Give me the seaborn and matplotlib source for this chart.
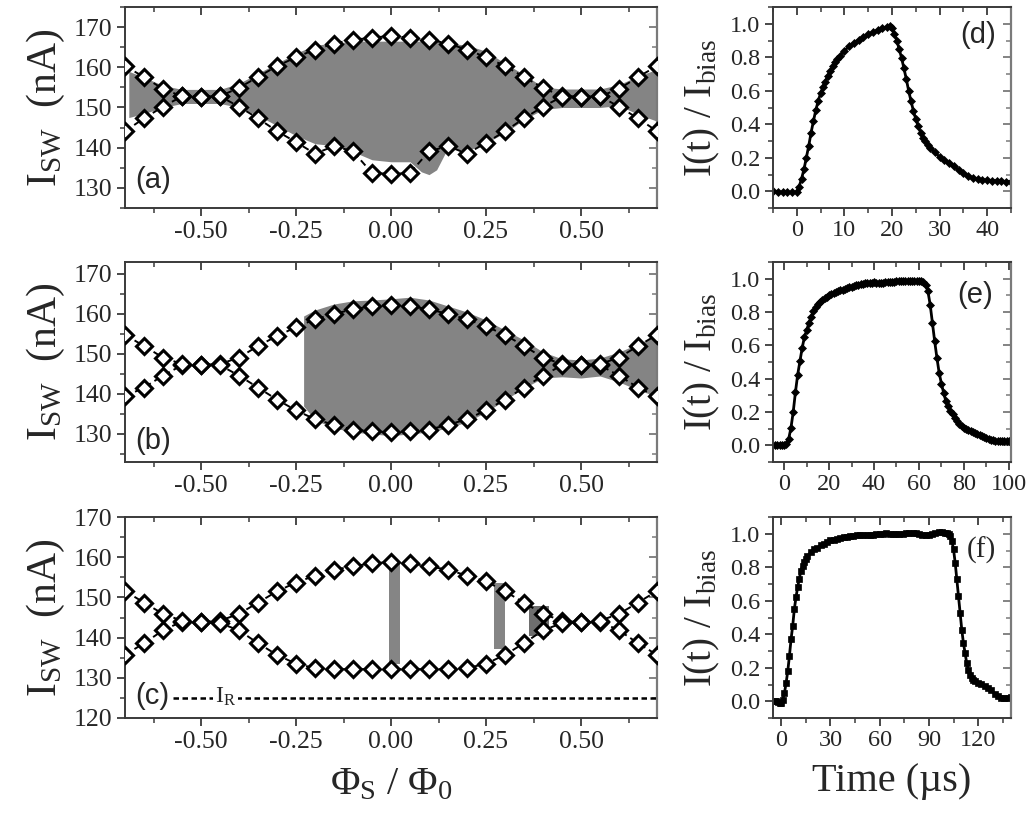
import numpy as np
import pandas as pd
import matplotlib
matplotlib.use("Agg")
import matplotlib.pyplot as plt
import seaborn as sns
from matplotlib.ticker import MultipleLocator, NullFormatter, FormatStrFormatter

# ---------------- data ----------------
phi = [-0.70, -0.65, -0.60, -0.55, -0.50, -0.45, -0.40, -0.35, -0.30, -0.25,
       -0.20, -0.15, -0.10, -0.05, 0.00, 0.05, 0.10, 0.15, 0.20, 0.25,
       0.30, 0.35, 0.40, 0.45, 0.50, 0.55, 0.60, 0.65, 0.70]

# panel (a)
a_curveA = [144.1, 147.3, 150.2, 152.8, 152.7, 152.8, 154.9, 157.6, 160.3, 162.5,
            164.4, 165.9, 166.9, 167.3, 167.9, 167.3, 166.9, 165.9, 164.4, 162.5,
            160.3, 157.6, 154.9, 152.8, 152.7, 152.8, 150.2, 147.3, 144.1]
a_curveB = [160.3, 157.6, 154.6, 152.8, 152.7, 152.8, 150.2, 147.3, 144.1, 141.4,
            138.5, 140.4, 139.1, 133.7, 133.5, 133.7, 139.1, 140.4, 138.5, 141.2,
            144.1, 147.3, 150.2, 152.7, 152.7, 152.8, 154.6, 157.6, 160.3]
a_fill_phi = [-0.69, -0.65, -0.60, -0.55, -0.50, -0.45, -0.40, -0.35, -0.30, -0.25,
              -0.20, -0.15, -0.10, -0.05, 0.00, 0.05, 0.08, 0.10, 0.12, 0.15,
              0.20, 0.25, 0.30, 0.35, 0.40, 0.45, 0.50, 0.55, 0.60, 0.65, 0.70]
a_fill_hi = [159.0, 157.5, 155.5, 154.5, 154.5, 154.5, 156.0, 158.5, 161.0, 163.5,
             165.5, 166.0, 166.5, 166.5, 166.5, 166.5, 166.5, 166.5, 166.5, 166.0,
             165.5, 164.0, 161.0, 158.2, 155.1, 154.6, 154.6, 154.6, 155.7, 157.8, 159.5]
a_fill_lo = [147.5, 148.5, 150.0, 151.0, 151.0, 151.0, 150.0, 148.0, 145.5, 143.0,
             141.0, 140.5, 139.0, 137.0, 136.5, 136.5, 134.0, 133.3, 134.5, 140.0,
             139.2, 141.2, 143.7, 147.0, 149.5, 150.0, 150.0, 150.0, 150.5, 148.3, 146.6]

# panel (b)
b_curveA = [139.4, 141.6, 144.6, 147.2, 147.3, 147.5, 149.1, 152.0, 154.5, 156.7,
            158.7, 160.0, 161.2, 161.9, 162.3, 161.9, 161.2, 160.0, 158.7, 156.9,
            154.8, 152.0, 149.1, 147.5, 147.3, 147.2, 144.6, 141.6, 139.4]
b_curveB = [154.8, 152.0, 149.1, 147.5, 147.3, 147.2, 144.6, 141.6, 138.6, 135.9,
            133.7, 132.3, 131.1, 130.7, 130.4, 130.7, 131.1, 132.3, 133.7, 135.9,
            138.6, 141.6, 144.6, 147.2, 147.3, 147.5, 149.1, 152.0, 154.8]
b_fill_phi = [-0.23, -0.20, -0.15, -0.10, -0.05, 0.00, 0.05, 0.10, 0.15, 0.20,
              0.25, 0.30, 0.35, 0.40, 0.45, 0.50, 0.55, 0.60, 0.65, 0.70]
b_fill_hi = [159.5, 161.0, 162.5, 163.3, 163.5, 163.8, 164.2, 163.5, 162.0, 160.5,
             158.5, 156.0, 153.5, 150.5, 148.8, 148.5, 149.0, 150.5, 152.5, 154.8]
b_fill_lo = [137.0, 133.5, 131.5, 130.5, 130.0, 129.6, 130.0, 130.5, 131.5, 133.0,
             135.5, 138.5, 141.5, 144.0, 144.3, 144.0, 144.5, 143.0, 141.0, 139.4]

# panel (c)
c_curveA = [135.7, 138.6, 141.8, 144.0, 143.8, 144.2, 145.9, 148.7, 151.5, 153.7,
            155.4, 156.9, 157.7, 158.5, 158.8, 158.5, 157.7, 156.9, 155.4, 154.0,
            151.5, 148.7, 145.9, 144.2, 143.8, 144.0, 141.8, 138.6, 135.7]
c_curveB = [151.6, 148.7, 145.9, 144.2, 143.8, 143.6, 141.8, 138.6, 135.7, 133.5,
            132.4, 132.2, 132.1, 132.2, 132.1, 132.2, 132.1, 132.2, 132.4, 133.5,
            135.7, 138.6, 141.8, 143.6, 143.8, 144.2, 145.9, 148.7, 151.6]
c_strip_x0 = [-0.005, 0.272, 0.362]
c_strip_x1 = [0.024, 0.300, 0.415]
c_strip_lo = [133.5, 137.2, 140.4]
c_strip_hi = [158.2, 153.6, 147.8]
c_strip_col = ["#858585", "#858585", "#6e6e6e"]
I_R = 125.0

# panel (d)
d_t = [-5, -4, -3, -2, -1, 0, 0.5, 1, 1.5, 2, 2.5, 3, 3.5, 4, 4.5, 5, 5.5, 6,
       6.5, 7, 7.5, 8, 8.5, 9, 10, 11, 12, 13, 14, 15, 16, 17, 18, 19, 19.5,
       20, 20.5, 21, 21.5, 22, 22.5, 23, 23.5, 24, 24.5, 25, 25.5, 26, 26.5,
       27, 27.5, 28, 29, 30, 31, 32, 33, 34, 35, 36, 37, 38, 39, 40, 41, 42,
       43, 44, 45]
d_I = [0.0, -0.003, -0.005, -0.005, -0.005, -0.003, 0.028, 0.075, 0.13, 0.2,
       0.27, 0.35, 0.42, 0.485, 0.54, 0.585, 0.622, 0.655, 0.688, 0.718, 0.745,
       0.77, 0.79, 0.808, 0.84, 0.865, 0.887, 0.904, 0.92, 0.936, 0.95, 0.962,
       0.973, 0.982, 0.986, 0.975, 0.94, 0.9, 0.85, 0.797, 0.735, 0.67, 0.6,
       0.537, 0.48, 0.43, 0.39, 0.35, 0.32, 0.298, 0.278, 0.26, 0.232, 0.205,
       0.185, 0.167, 0.148, 0.128, 0.11, 0.092, 0.08, 0.073, 0.069, 0.066,
       0.064, 0.062, 0.06, 0.058, 0.058]

# panel (e)
e_t = [-4, -3, -2, -1, 0, 1, 2, 3, 4, 5, 6, 7, 8, 9, 10, 11, 12, 13, 14, 15,
       16, 17, 18, 19, 20, 21, 22, 23, 24, 25, 26, 27, 28, 29, 30, 31, 32, 33,
       34, 35, 36, 37, 38, 39, 40, 41, 42, 43, 44, 45, 46, 47, 48, 49, 50, 51,
       52, 53, 54, 55, 56, 57, 58, 59, 60, 61, 62, 63, 64, 65, 66, 67, 68, 69,
       70, 71, 72, 73, 74, 75, 76, 77, 78, 79, 80, 81, 82, 83, 84, 85, 86, 87,
       88, 89, 90, 91, 92, 93, 94, 95, 96, 97, 98, 99, 100]
e_I = [0.0, 0.0, 0.0, 0.0, 0.0, 0.006, 0.04, 0.105, 0.2, 0.32, 0.425, 0.505,
       0.585, 0.65, 0.69, 0.735, 0.77, 0.804, 0.83, 0.848, 0.862, 0.874, 0.884,
       0.893, 0.902, 0.908, 0.914, 0.92, 0.925, 0.93, 0.935, 0.94, 0.944, 0.949,
       0.953, 0.957, 0.96, 0.964, 0.967, 0.97, 0.973, 0.975, 0.976, 0.977,
       0.978, 0.977, 0.975, 0.975, 0.976, 0.978, 0.98, 0.981, 0.982, 0.983,
       0.984, 0.985, 0.986, 0.987, 0.988, 0.988, 0.988, 0.988, 0.988, 0.987,
       0.986, 0.984, 0.978, 0.964, 0.924, 0.844, 0.735, 0.625, 0.525, 0.435,
       0.371, 0.315, 0.265, 0.235, 0.206, 0.186, 0.166, 0.146, 0.13, 0.118,
       0.106, 0.099, 0.092, 0.086, 0.08, 0.075, 0.07, 0.063, 0.056, 0.049,
       0.042, 0.037, 0.032, 0.03, 0.028, 0.027, 0.026, 0.026, 0.026, 0.026, 0.026]

# panel (f)
f_t = [-4, -3, -2, -1, 0, 1, 2, 3, 4, 5, 6, 7, 8, 9, 10, 11, 12, 13, 14, 15,
       16, 18, 20, 22, 24, 26, 28, 30, 32, 34, 36, 38, 40, 42, 44, 46, 48, 50,
       52, 54, 56, 58, 60, 62, 64, 66, 68, 70, 72, 74, 76, 78, 80, 82, 84, 86,
       88, 90, 92, 94, 96, 98, 100, 101, 102, 103, 104, 105, 106, 107, 108, 109,
       110, 111, 112, 113, 114, 115, 116, 117, 118, 120, 122, 124, 126, 128,
       130, 132, 134, 136, 138, 140]
f_I = [0.0, 0.0, -0.006, -0.01, -0.008, 0.01, 0.05, 0.11, 0.18, 0.27, 0.37,
       0.45, 0.55, 0.62, 0.68, 0.73, 0.78, 0.81, 0.83, 0.85, 0.867, 0.89, 0.906,
       0.916, 0.93, 0.94, 0.952, 0.96, 0.965, 0.97, 0.974, 0.978, 0.982, 0.985,
       0.988, 0.992, 0.994, 0.995, 0.994, 0.994, 0.995, 0.997, 0.998, 1.0, 1.002,
       1.0, 0.997, 0.996, 0.998, 1.0, 1.003, 1.006, 1.006, 1.003, 1.0, 0.995,
       0.99, 0.994, 1.0, 1.006, 1.01, 1.008, 1.006, 1.004, 1.0, 0.986, 0.956,
       0.906, 0.826, 0.727, 0.627, 0.528, 0.428, 0.349, 0.289, 0.229, 0.189,
       0.159, 0.139, 0.128, 0.12, 0.11, 0.104, 0.094, 0.08, 0.066, 0.046, 0.03,
       0.02, 0.02, 0.02, 0.024]

phi_ticks = [-0.50, -0.25, 0.00, 0.25, 0.50]
phi_ticklabels = ["-0.50", "-0.25", "0.00", "0.25", "0.50"]

# ---------------- style ----------------
sns.set_theme(style="ticks")
plt.rcParams["font.family"] = ["Liberation Serif", "DejaVu Serif"]
plt.rcParams["mathtext.fontset"] = "custom"
plt.rcParams["mathtext.rm"] = "Liberation Serif"
plt.rcParams["mathtext.it"] = "Liberation Serif:italic"
plt.rcParams["axes.linewidth"] = 1.4

LABEL_FS = 30
PANEL_FS = 21
SPINE = "#3a3a3a"
SPINE_R = "#7a7a7a"

fig = plt.figure(figsize=(10.32, 8.14), dpi=100)

L_X, L_W = 125 / 1032, (657 - 125) / 1032
R_X, R_W = 773 / 1032, (1011 - 773) / 1032


def box(top_px, bot_px):
    return 1 - bot_px / 814, (bot_px - top_px) / 814


def style_axes(ax, xlim, ylim, xmaj, xmin, ymaj, ymin, fs):
    ax.set_xlim(*xlim)
    ax.set_ylim(*ylim)
    ax.xaxis.set_major_locator(MultipleLocator(xmaj))
    ax.xaxis.set_minor_locator(MultipleLocator(xmin))
    ax.yaxis.set_major_locator(MultipleLocator(ymaj))
    ax.yaxis.set_minor_locator(MultipleLocator(ymin))
    ax.tick_params(which="both", direction="out", labelsize=fs,
                   color=SPINE, top=False, right=False)
    ax.tick_params(which="major", length=6, width=1.3, pad=3)
    ax.tick_params(which="minor", length=3.5, width=1.1)
    for s in ["left", "bottom", "top"]:
        ax.spines[s].set_color(SPINE)
        ax.spines[s].set_linewidth(1.4)
    ax.spines["right"].set_color(SPINE_R)
    ax.spines["right"].set_linewidth(1.6)
    sx = ax.secondary_xaxis("top")
    sx.xaxis.set_major_locator(MultipleLocator(xmaj))
    sx.xaxis.set_minor_locator(MultipleLocator(xmin))
    sx.xaxis.set_major_formatter(NullFormatter())
    sx.tick_params(which="both", direction="in", color=SPINE)
    sx.tick_params(which="major", length=5.5, width=1.3)
    sx.tick_params(which="minor", length=3.5, width=1.1)
    sx.spines["top"].set_visible(False)
    sy = ax.secondary_yaxis("right")
    sy.yaxis.set_major_locator(MultipleLocator(ymaj))
    sy.yaxis.set_minor_locator(MultipleLocator(ymin))
    sy.yaxis.set_major_formatter(NullFormatter())
    sy.tick_params(which="both", direction="in", color=SPINE_R)
    sy.tick_params(which="major", length=5.5, width=1.3)
    sy.tick_params(which="minor", length=3.5, width=1.1)
    sy.spines["right"].set_visible(False)


def draw_curves(ax, yA, yB):
    for y in (yA, yB):
        sns.lineplot(x=phi, y=y, ax=ax, sort=False, estimator=None,
                     color="black", linewidth=1.4, linestyle=(0, (3.5, 2.2)),
                     marker="D", markersize=8, markerfacecolor="white",
                     markeredgecolor="black", markeredgewidth=2.2, zorder=5)


boxes = [box(7, 208), box(262, 462), box(517, 718)]

ax_a = fig.add_axes([L_X, boxes[0][0], L_W, boxes[0][1]])
ax_b = fig.add_axes([L_X, boxes[1][0], L_W, boxes[1][1]])
ax_c = fig.add_axes([L_X, boxes[2][0], L_W, boxes[2][1]])
ax_d = fig.add_axes([R_X, boxes[0][0], R_W, boxes[0][1]])
ax_e = fig.add_axes([R_X, boxes[1][0], R_W, boxes[1][1]])
ax_f = fig.add_axes([R_X, boxes[2][0], R_W, boxes[2][1]])

GRAY = "#848484"
LFS = 18.5
RFS = 17.5

# (a)
ax_a.fill_between(a_fill_phi, a_fill_lo, a_fill_hi, color=GRAY, linewidth=0, zorder=2)
draw_curves(ax_a, a_curveA, a_curveB)
style_axes(ax_a, (-0.7, 0.7), (125, 175), 0.25, 0.125, 10, 5, LFS)

# (b)
ax_b.fill_between(b_fill_phi, b_fill_lo, b_fill_hi, color=GRAY, linewidth=0, zorder=2)
draw_curves(ax_b, b_curveA, b_curveB)
style_axes(ax_b, (-0.7, 0.7), (123, 173), 0.25, 0.125, 10, 5, LFS)

# (c)
for x0, x1, lo, hi, col in zip(c_strip_x0, c_strip_x1, c_strip_lo, c_strip_hi, c_strip_col):
    ax_c.fill_between([x0, x1], [lo, lo], [hi, hi], color=col, linewidth=0, zorder=2)
draw_curves(ax_c, c_curveA, c_curveB)
ax_c.axhline(I_R, xmin=(-0.575 + 0.7) / 1.4, xmax=1.0, color="black",
             linewidth=1.8, linestyle=(0, (2.2, 1.4)), zorder=3)
ax_c.text(-0.435, I_R + 0.3, r"I$_\mathrm{R}$", fontsize=17, ha="center", va="center",
          zorder=4, bbox=dict(facecolor="white", edgecolor="none", pad=1.5))
style_axes(ax_c, (-0.7, 0.7), (120, 170), 0.25, 0.125, 10, 5, LFS)

for ax in (ax_a, ax_b, ax_c):
    ax.set_xticks(phi_ticks)
    ax.set_xticklabels(phi_ticklabels)
    ax.set_ylabel(r"I$_\mathrm{SW}$  (nA)", fontsize=LABEL_FS, labelpad=5)
    ax.set_xlabel("")

ax_c.set_xlabel(r"Φ$_\mathrm{S}$ / Φ$_\mathrm{0}$", fontsize=LABEL_FS - 1, labelpad=10)

ax_a.text(-0.627, 132, "(a)", fontsize=PANEL_FS, family="Liberation Sans",
          ha="center", va="center", zorder=6)
ax_b.text(-0.627, 128.3, "(b)", fontsize=PANEL_FS, family="Liberation Sans",
          ha="center", va="center", zorder=6)
ax_c.text(-0.627, 125.4, "(c)", fontsize=PANEL_FS, family="Liberation Sans",
          ha="center", va="center", zorder=6,
          bbox=dict(facecolor="white", edgecolor="none", pad=1.0))


def draw_trace(ax, t, y, marker, ms):
    sns.lineplot(x=t, y=y, ax=ax, sort=False, estimator=None, color="black",
                 linewidth=2.0, marker=marker, markersize=ms,
                 markerfacecolor="black", markeredgecolor="black",
                 markeredgewidth=0.5)


draw_trace(ax_d, d_t, d_I, "D", 4.5)
style_axes(ax_d, (-5, 45), (-0.1, 1.1), 10, 5, 0.2, 0.1, RFS)
draw_trace(ax_e, e_t, e_I, "D", 4.5)
style_axes(ax_e, (-5, 101), (-0.1, 1.1), 20, 10, 0.2, 0.1, RFS)
draw_trace(ax_f, f_t, f_I, "s", 3.8)
style_axes(ax_f, (-5, 140), (-0.1, 1.1), 30, 15, 0.2, 0.1, RFS)

for ax in (ax_d, ax_e, ax_f):
    ax.yaxis.set_major_formatter(FormatStrFormatter("%.1f"))
    ax.set_ylabel(r"I(t) / I$_\mathrm{bias}$", fontsize=LABEL_FS - 2, labelpad=6)
    ax.set_xlabel("")
ax_f.set_xlabel("Time (µs)", fontsize=LABEL_FS - 1, labelpad=8)

ax_d.text(38, 0.93, "(d)", fontsize=PANEL_FS, family="Liberation Sans", ha="center", va="center")
ax_e.text(85, 0.9, "(e)", fontsize=PANEL_FS, family="Liberation Sans", ha="center", va="center")
ax_f.text(122, 0.9, "(f)", fontsize=PANEL_FS, ha="center", va="center")

fig.savefig("out.png", dpi=100)
